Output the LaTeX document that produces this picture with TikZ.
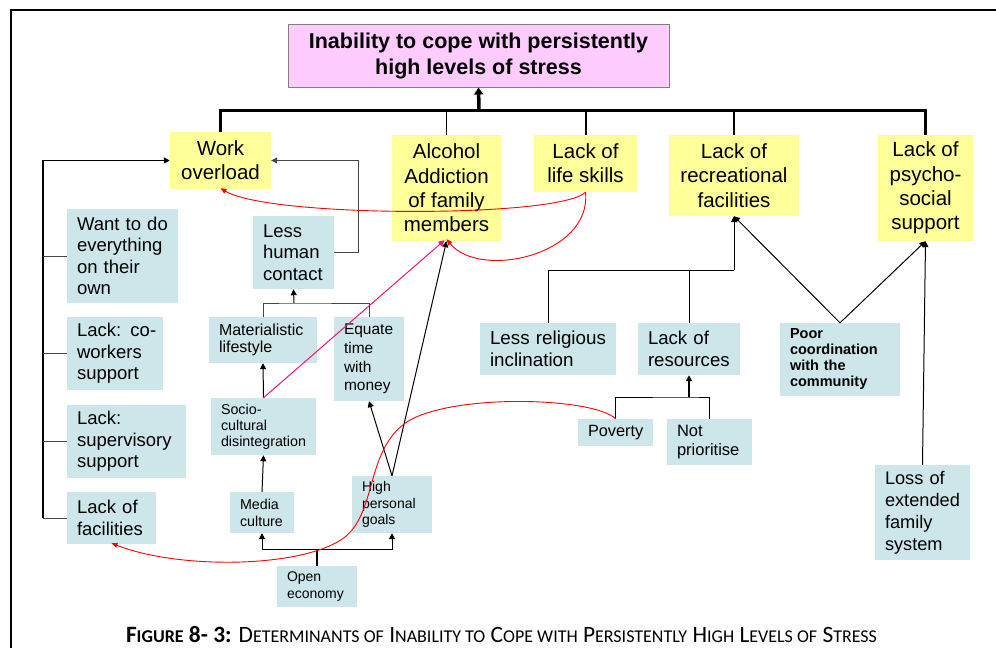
\documentclass[tikz,border=0pt]{standalone}
\usepackage{fontspec}
\setmainfont{Liberation Sans}
\newfontfamily\capfont{Carlito}
\usetikzlibrary{arrows.meta}
\definecolor{yel}{RGB}{255,255,153}
\definecolor{blu}{RGB}{205,230,233}
\definecolor{pnk}{RGB}{255,204,255}
\definecolor{mag}{RGB}{240,20,120}
\definecolor{lgray}{RGB}{70,70,70}
\newcommand\sck[1]{{\fontsize{18}{18}\selectfont #1}}
\begin{document}
\begin{tikzpicture}[x=1pt,y=-1pt,
  ybox/.style={fill=yel, inner sep=0pt, align=center, font=\fontsize{20.5}{24.3}\selectfont},
  bbox/.style={fill=blu, inner xsep=10pt, inner ysep=0pt, align=left},
  tip/.style={-{Triangle[length=6pt,width=6pt]}},
  con/.style={line width=1pt, black},
  br/.style={line width=1pt, lgray},
  red curve/.style={line width=0.9pt, red, -{Triangle[length=6pt,width=5pt]}}]
\useasboundingbox (0,0) rectangle (996,648);
\fill[white] (0,0) rectangle (996,648);
% frame
\draw[line width=2pt] (11,648) -- (11,10) -- (996,10);

% top
\node[fill=pnk, draw=gray, line width=1pt, minimum width=381pt, minimum height=63pt, inner sep=0pt, align=center,
  font=\bfseries\fontsize{21.5}{26}\selectfont] (top) at (478.5,55.5) {Inability to cope with persistently\\high levels of stress};

% yellow
\node[ybox, minimum width=101pt, minimum height=57pt] (work) at (220.5,160.5) {Work\\overload};
\node[ybox, minimum width=109pt, minimum height=106pt] (alcohol) at (446.5,188) {Alcohol\\Addiction\\of family\\members};
\node[ybox, minimum width=103pt, minimum height=57pt] (lifeskills) at (585.5,163.5) {Lack of\\life skills};
\node[ybox, minimum width=130pt, minimum height=81pt] (recreational) at (734,175.5) {Lack of\\recreational\\facilities};
\node[ybox, minimum width=95pt, minimum height=106pt] (psycho) at (925.5,188) {Lack of\\psycho-\\social\\support};

% blue
\node[bbox, text width=91pt, minimum height=94pt, font=\fontsize{18.5}{21.5}\selectfont] (want) at (122.5,256) {\mbox{Want to do}\\everything\\\mbox{on their}\\own};
\node[bbox, text width=61pt, minimum height=73pt, font=\fontsize{18.5}{21.3}\selectfont] (lesshuman) at (293.5,252.5) {Less\\human\\contact};
\node[bbox, text width=76pt, minimum height=73pt, font=\fontsize{18.5}{21.3}\selectfont] (coworkers) at (115,353.5) {\mbox{Lack: co-}\\workers\\support};
\node[bbox, text width=99pt, minimum height=73pt, font=\fontsize{18.5}{21.5}\selectfont] (supervisory) at (126.5,441.5) {Lack:\\supervisory\\support};
\node[bbox, text width=69pt, minimum height=52pt, font=\fontsize{18.5}{21.5}\selectfont] (facilities) at (111.5,518) {\mbox{Lack of}\\facilities};
\node[bbox, text width=88pt, minimum height=46pt, font=\fontsize{16}{17.7}\selectfont] (materialistic) at (263,340) {Materialistic\\lifestyle};
\node[bbox, text width=50pt, minimum height=84pt, font=\fontsize{15.5}{18.7}\selectfont] (equate) at (369,359) {Equate\\time\\with\\money};
\node[bbox, text width=85pt, minimum height=57pt, font=\fontsize{14.3}{16}\selectfont] (socio) at (263.5,426.5) {Socio-\\cultural\\disintegration};
\node[bbox, text width=44pt, minimum height=41pt, font=\fontsize{14.3}{17}\selectfont] (media) at (262,512.5) {Media\\culture};
\node[bbox, text width=60pt, minimum height=57pt, font=\fontsize{14}{16.7}\selectfont] (high) at (392,504.5) {High\\personal\\goals};
\node[bbox, text width=60pt, minimum height=41pt, font=\fontsize{14}{16.7}\selectfont] (open) at (317,586.5) {Open\\economy};
\node[bbox, text width=116pt, minimum height=52pt, font=\fontsize{18.8}{21.7}\selectfont] (religious) at (548,349) {\mbox{Less religious}\\inclination};
\node[bbox, text width=82pt, minimum height=52pt, font=\fontsize{18.6}{21.7}\selectfont] (resources) at (689,349) {\mbox{Lack of}\\resources};
\node[bbox, text width=100pt, minimum height=73pt, font=\bfseries\fontsize{14.5}{16}\selectfont] (poor) at (840,359.5) {Poor\\coordination\\\mbox{with the}\\community};
\node[bbox, text width=55pt, minimum height=27pt, font=\fontsize{16.3}{19}\selectfont] (poverty) at (615.5,432.5) {Poverty};
\node[bbox, text width=65pt, minimum height=46pt, font=\fontsize{16.5}{19}\selectfont] (notprior) at (709.5,442) {Not\\prioritise};
\node[bbox, text width=75pt, minimum height=95pt, font=\fontsize{18.2}{22}\selectfont] (loss) at (922.5,512.5) {\mbox{Loss of}\\extended\\family\\system};

% top bus
\coordinate (bus) at (479,110.5);
\draw[line width=2.2pt] (work.north) |- (bus) -| (psycho.north);
\draw[line width=2pt] (lifeskills.north) -- (lifeskills.north |- bus);
\draw[line width=2pt] (recreational.north) -- (recreational.north |- bus);
\draw[line width=1pt] (alcohol.north) -- (alcohol.north |- bus);
\draw[line width=3.5pt, -{Triangle[length=7pt,width=9pt]}] ([yshift=1pt]bus) -- (top.south);

% left bracket
\coordinate (lbx) at (43,0);
\draw[line width=1.5pt, tip] (facilities.west -| lbx) |- (work.west);
\draw[br] (want.west) -- (want.west -| lbx);
\draw[br] (coworkers.west) -- (coworkers.west -| lbx);
\draw[br] (supervisory.west) -- (supervisory.west -| lbx);
\draw[br] (facilities.west) -- (facilities.west -| lbx);

% less human contact -> work overload
\coordinate (lhc) at (358,252.5);
\draw[br, tip] (lesshuman.east) -- (lhc) |- (work.east);

% materialistic / equate -> less human contact
\coordinate (mj) at (294,303);
\draw[br] (materialistic.north) |- (mj) -| (equate.north);
\draw[con, tip] (mj) -- (lesshuman.south);

\draw[con, tip] (socio.north) -- (materialistic.south);
\draw[con, tip] (media.north) -- (socio.south);

% open economy
\coordinate (oj) at (317,549);
\draw[line width=1.5pt] (open.north) -- (oj);
\draw[con, tip] (oj) -| (media.south);
\draw[con, tip] (oj) -| (high.south);

\draw[con, tip] (high.north) -- (equate.south);
\draw[con, tip] (high.north) -- (alcohol.south);
\draw[mag, line width=1pt, tip] (socio.north) -- ([xshift=-2pt,yshift=1pt]alcohol.south);

% recreational
\coordinate (rj) at (734,270);
\draw[con] (religious.north) |- (rj);
\draw[con] (resources.north) -- (resources.north |- rj);
\draw[con, tip] (rj) -- (recreational.south);
\draw[con, tip] (poor.north) -- (recreational.south);
\draw[con, tip] (poor.north) -- (psycho.south);
\draw[con, tip] (loss.north) -- (psycho.south);

% poverty / not prioritise
\coordinate (pj) at (689,397);
\draw[con] (poverty.north) |- (pj) -| (notprior.north);
\draw[line width=1.5pt, tip] (pj) -- (resources.south);

% red curves
\draw[red curve] (lifeskills.south) .. controls (560,218) and (270,218) .. ([yshift=1pt]work.south);
\draw[red curve] (lifeskills.south) .. controls (592,255) and (480,280) .. ([yshift=2pt]alcohol.south);
\draw[red curve] (poverty.north) .. controls (595,398) and (460,393) .. (410,420)
   .. controls (365,447) and (378,510) .. (345,537)
   .. controls (305,568) and (180,570) .. ([yshift=1pt]facilities.south);

% caption
\node[anchor=base, inner sep=0pt, font=\capfont\fontsize{23.4}{28}\selectfont] (cap) at (501.5,642)
 {\textbf{F\sck{IGURE} 8- 3:} D\sck{ETERMINANTS OF} I\sck{NABILITY TO} C\sck{OPE WITH} P\sck{ERSISTENTLY} H\sck{IGH} L\sck{EVELS OF} S\sck{TRESS}};
\end{tikzpicture}
\end{document}
